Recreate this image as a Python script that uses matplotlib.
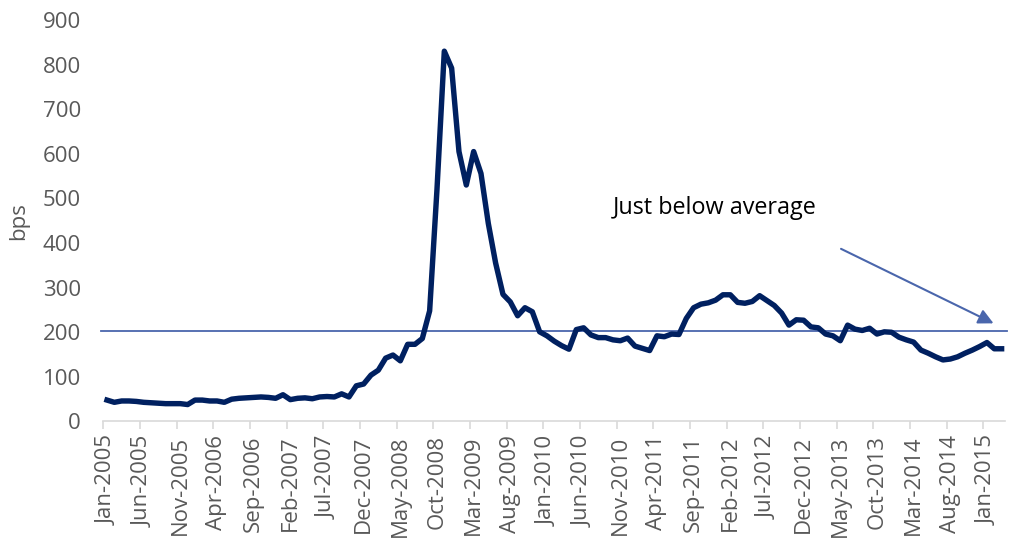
import matplotlib
matplotlib.use("Agg")
import matplotlib.pyplot as plt
import pandas as pd

plt.rcParams['font.family'] = ['Open Sans', 'DejaVu Sans']

# monthly spread, Jan-2005 .. Mar-2015
months = pd.date_range("2005-01-01", "2015-03-01", freq="MS")
month_labels = [d.strftime("%b-%Y") for d in months]

spread = [48, 43, 46, 46, 45, 43, 42, 41, 40, 40,
          40, 38, 48, 48, 46, 46, 43, 50, 52, 53,
          54, 55, 54, 52, 60, 49, 52, 53, 51, 55,
          56, 55, 62, 55, 80, 84, 104, 115, 142, 149,
          136, 173, 173, 186, 248, 520, 830, 792, 605, 530,
          605, 556, 444, 355, 285, 268, 237, 255, 246, 201,
          192, 180, 170, 162, 206, 210, 194, 188, 188, 183,
          181, 187, 169, 164, 159, 192, 190, 196, 195, 231,
          255, 263, 266, 272, 284, 284, 267, 265, 269, 282,
          271, 260, 243, 216, 228, 227, 212, 210, 196, 192,
          181, 216, 207, 204, 209, 196, 201, 200, 189, 183,
          178, 160, 153, 145, 138, 140, 145, 153, 160, 168,
          177, 163, 163]
average = 203

label_step = 5
grey = '#595959'
line_blue = '#4A66AC'

fig = plt.figure(figsize=(10.18, 5.39), dpi=100)
ax = fig.add_axes([0.1015, 0.218, 0.886, 0.745])

x = list(range(len(spread)))
ax.plot(x, spread, color='#002060', linewidth=3.9, solid_joinstyle='round', zorder=3)

# average line
ax.plot([-0.87, len(spread) - 0.3], [average, average], color=line_blue,
        linewidth=1.3, clip_on=False, zorder=2)

ax.set_xlim(-0.5, len(spread) - 0.5)
ax.set_ylim(0, 900)
ax.set_yticks(range(0, 901, 100))

ax.set_xticks(x[::label_step])
ax.set_xticklabels(month_labels[::label_step], rotation=90)
ax.set_xticks([i - 0.5 for i in x[::label_step]], minor=True)
ax.tick_params(axis='x', which='major', length=0, pad=10, labelsize=16, labelcolor=grey)
ax.tick_params(axis='x', which='minor', length=6, color='#D9D9D9', width=1.2)
ax.tick_params(axis='y', length=0, pad=16, labelsize=16, labelcolor=grey)

for s in ['top', 'right', 'left']:
    ax.spines[s].set_visible(False)
ax.spines['bottom'].set_color('#D9D9D9')
ax.spines['bottom'].set_linewidth(1.2)

ax.set_ylabel('bps', fontsize=16, color=grey, labelpad=10)

ax.text(69.0, 478, 'Just below average', fontsize=16.8, color='black', va='center', ha='left')
ax.annotate('', xy=(120.9, 220), xytext=(100.1, 387),
            arrowprops=dict(arrowstyle='-|>,head_length=0.9,head_width=0.45',
                            color=line_blue, linewidth=1.5, shrinkA=0, shrinkB=0))

fig.savefig('out.png', dpi=100)
